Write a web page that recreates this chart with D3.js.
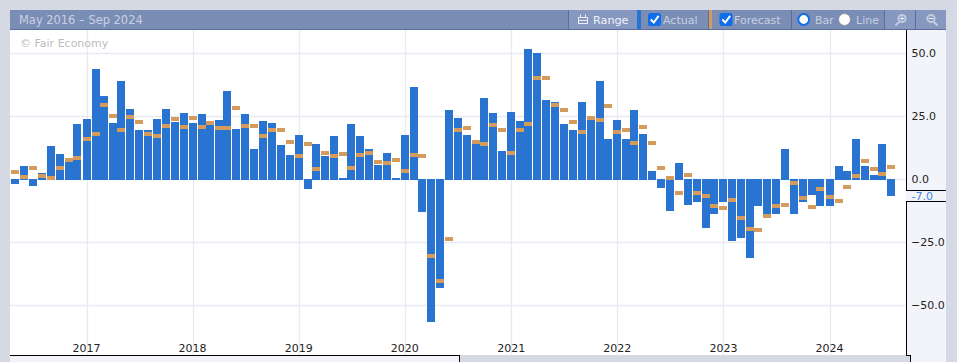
<!DOCTYPE html>
<html><head><meta charset="utf-8">
<script src="https://cdn.jsdelivr.net/npm/d3@7/dist/d3.min.js"></script>
<style>html,body{margin:0;padding:0;background:#d5d9e3;overflow:hidden}svg{display:block}text{font-family:"DejaVu Sans",sans-serif}</style>
</head><body><svg id="c" width="957" height="362"></svg>
<script>
const firstMonth = "2016-05-01";
const actual = [-2,5,-3,2.2,13,10,7,21.7,24,43.6,33,22.4,39,28,19.6,19.3,24,28,22.8,26.4,22.4,26,21.6,23.6,34.8,20,26,12,23.2,22.4,13.3,9.7,17.3,-4.2,14,
9,17,0.5,22,17,12,5.7,10.5,0.5,17.3,36.7,-13.1,-57,-43.4,27.6,24.4,17.3,13.7,32.4,26.4,11.3,26.8,23.2,51.9,50.3,31.6,30.8,22,19.6,30.8,23.6,39,15.7,23.6,16,27.6,
18,3,-3.5,-12.7,6.5,-10.4,-9.2,-19.5,-13.9,-9.2,-24.7,-23.5,-31.5,-10.8,-13.9,-13.9,12,-13.9,-9.2,-6.4,-10.8,-10.8,5.2,3.2,15.7,5,1.7,14,-7];
const forecast = [2.6,0.7,4.5,1,0.5,4.5,7.7,8.5,15.7,18,29.6,25.2,19.3,24.8,22.8,17.7,16.9,21.2,24,20.8,24.4,20.8,22.4,20.4,20.4,28.4,21.2,21.2,16.9,19.3,19.6,14.5,9.3,13.7,4.1,
10.4,9.3,10,4.5,9.7,10.4,6.9,6.5,7.7,3.3,9.7,9,-30.7,-40.6,-23.9,19.6,20.4,14.5,13.7,21.6,19.6,10.4,19.6,22,40.3,40.3,29.6,27.6,22.8,18.5,24.4,23.6,29,18.5,19.3,14.3,
20.8,14.3,4.5,0.5,-5.6,1.7,-5.6,-6.8,-10.8,-11.6,-8.4,-15.5,-20,-20.3,-14.7,-10.8,-10.3,-1.6,-7.6,-11.2,-4,-7.2,-8.8,-3.2,1,7.3,4.1,2,4.9];
const yearTicks = [2017,2018,2019,2020,2021,2022,2023,2024];
const valueTicks = [50,25,0,-25,-50];
const lastValueLabel = "-7.0";
const rangeLabel = "May 2016 – Sep 2024";
const credit = "© Fair Economy";

const col = {page:"#d5d9e3",bar:"#7a8db5",barLo:"#8698bf",edge:"#5a6d9f",grid:"#e8eaf3",axis:"#f3f4f9",blue:"#2874d0",orange:"#d49b5c",txt:"#c8d0e3"};
const svg = d3.select("#c");
const months = actual.map((_,i)=>d3.timeMonth.offset(new Date(firstMonth+"T00:00:00"),i));
const x = d3.scaleTime().domain([new Date(2017,0,1),new Date(2024,0,1)]).range([86.5,829.5]);
const y = d3.scaleLinear().domain([-50,50]).range([304.5,53.3]);
const R=(a,b,w,h,f,p=svg)=>p.append("rect").attr("x",a).attr("y",b).attr("width",w).attr("height",h).attr("fill",f);
const L=(a,b,c,d,s,w=1,p=svg)=>p.append("line").attr("x1",a).attr("y1",b).attr("x2",c).attr("y2",d).attr("stroke",s).attr("stroke-width",w);
const T=(s,a,b,f,sz=11,an="start",p=svg)=>p.append("text").attr("x",a).attr("y",b).attr("fill",f).attr("font-size",sz).attr("text-anchor",an).text(s);

// frame
R(10,30,896,325,"#fff");
R(906,30,40,332,col.axis);
R(10,355,449,7,col.axis);
R(459,355,451,7,col.page);

// grid
const gx=svg.append("g");
yearTicks.forEach(t=>{const v=Math.round(x(new Date(t,0,1)))+.5;L(v,30,v,355,col.grid,1.3,gx);});
valueTicks.forEach(t=>{const v=Math.round(y(t))+.5;L(10,v,906,v,col.grid,1.3,gx);});

T(credit,20,47,"#bcbcbc",11);

// bars
const bw=8, zero=Math.round(y(0));
svg.append("g").selectAll("rect").data(actual).join("rect")
 .attr("x",(d,i)=>Math.round(x(months[i])-bw/2)).attr("width",bw)
 .attr("y",d=>d>=0?Math.round(y(d)):zero)
 .attr("height",d=>d>=0?zero+1-Math.round(y(d)):Math.round(y(d))-zero)
 .attr("fill",col.blue);
svg.append("g").selectAll("rect").data(forecast).join("rect")
 .attr("x",(d,i)=>Math.round(x(months[i])-bw/2)).attr("width",bw)
 .attr("y",d=>Math.round(y(d))-2).attr("height",4)
 .attr("fill",col.orange);

// x labels
yearTicks.forEach(t=>T(String(t),x(new Date(t,0,1)),352,"#222",11,"middle"));

// y axis
valueTicks.forEach(t=>T(d3.format(".1f")(t),t<0?911:911.5,y(t)+4,"#222",11));
R(906,191,40,10,col.axis);
T(lastValueLabel,911.5,200,"#3f86dc",11);
L(906,190.5,946,190.5,"#000");
L(906,201.5,946,201.5,"#000");
L(906.5,30,906.5,190.5,"#000");
L(906.5,201.5,906.5,355.5,"#000");
L(906,355.5,910.5,355.5,"#000");
L(910.5,355,910.5,362,"#000");
L(10,355.5,459.5,355.5,"#000");
L(459.5,355,459.5,362,"#000");

// toolbar
R(10,10,936,20,col.bar);
R(10,29,936,1,col.edge);
R(569,10,68,19,col.barLo);
R(885,10,61,19,col.barLo);
[568.5,708.5,791.5,884.5,915.5].forEach(v=>L(v,10,v,30,col.edge));
R(637,10,4,19,col.blue);
R(709,10,3,19,col.orange);
T(rangeLabel,19,24,col.txt,11.45);
// calendar icon
const ic=svg.append("g").attr("fill","none").attr("stroke","#e8ecf5");
ic.append("rect").attr("x",578.5).attr("y",17.5).attr("width",9).attr("height",6);
ic.append("path").attr("d","M580.5 17v-2.5M585.5 17v-2.5M579 20.5h8");
T("Range",593,24,"#eef1f8",11.2);
[[648,"Actual",663],[719.5,"Forecast",734]].forEach(([a,s,b])=>{
 svg.append("rect").attr("x",a).attr("y",13).attr("width",13).attr("height",13).attr("rx",2.5).attr("fill","#0f6fe8");
 svg.append("path").attr("d",`M${a+2.8} ${19.5}l3 3l4.8-6.6`).attr("fill","none").attr("stroke","#fff").attr("stroke-width",2);
 T(s,b,24,col.txt,11);
});
svg.append("circle").attr("cx",803.7).attr("cy",19.5).attr("r",5.4).attr("fill","#fff").attr("stroke","#0f6fe8").attr("stroke-width",2);
svg.append("circle").attr("cx",844.5).attr("cy",19.5).attr("r",5.9).attr("fill","#fff").attr("stroke","#8a8f9c").attr("stroke-width",.8);
T("Bar",815,24,col.txt,11);
T("Line",856,24,col.txt,11);
[[902,true],[931,false]].forEach(([c,plus])=>{
 const g=svg.append("g").attr("fill","none").attr("stroke","#c3cbe0");
 g.append("circle").attr("cx",c).attr("cy",18.5).attr("r",3.6).attr("stroke-width",2);
 g.append("path").attr("d",plus?`M${c-3} 22l-3.5 3.5`:`M${c+3} 22l3.5 3.5`).attr("stroke-width",2.2);
 g.append("path").attr("d",plus?`M${c-2} 18.5h4M${c} 16.5v4`:`M${c-2} 18.5h4`).attr("stroke","#eef1f8").attr("stroke-width",1);
});
</script></body></html>
